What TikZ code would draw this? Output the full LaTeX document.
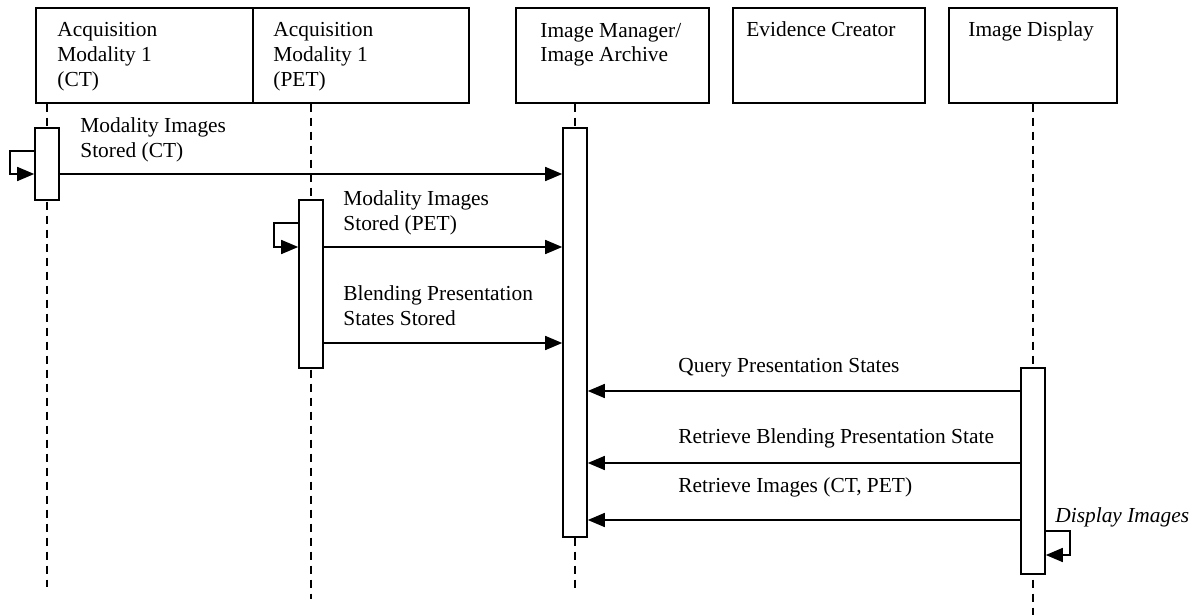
\documentclass[tikz,border=0pt]{standalone}
\usepackage{fontspec}
\setmainfont{Liberation Serif}
\usetikzlibrary{calc,arrows.meta}

\begin{document}
\begin{tikzpicture}[x=0.5pt, y=-0.5pt,
  hbox/.style = {draw, line width=0.8pt, anchor=north west, minimum height=47.5pt, inner sep=0pt},
  act/.style = {draw, line width=0.8pt, fill=white, anchor=north, minimum width=12pt, inner sep=0pt},
  life/.style = {line width=1pt, dash pattern=on 4pt off 3pt},
  msg/.style = {line width=0.8pt, -{Triangle[length=8.5pt, width=7pt]}},
  lbl/.style = {anchor=base west, align=left, inner sep=0pt, font=\fontsize{10.7pt}{12.5pt}\selectfont}]
\useasboundingbox (0,0) rectangle (1198,615);

% objects
\node[hbox, minimum width=108.5pt] (ct) at (35,7) {};
\node[hbox, minimum width=108pt] (pet) at (252,7) {};
\node[hbox, minimum width=96.5pt] (im) at (515,7) {};
\node[hbox, minimum width=96pt] (ec) at (732,7) {};
\node[hbox, minimum width=84pt] (id) at (948,7) {};

% base = last line
\node[lbl] (ctname) at (57,87) {Acquisition\\Modality 1\\(CT)};
\node[lbl] (petname) at (273,87) {Acquisition\\Modality 1\\(PET)};
\node[lbl] (imname) at (540,62) {Image Manager/\\Image Archive};
\node[lbl] (ecname) at (746,37) {Evidence Creator};
\node[lbl] (idname) at (968,37) {Image Display};

% lifelines
\coordinate (ctend) at (47,587);
\coordinate (petend) at (311,599);
\coordinate (imend) at (575,588);
\coordinate (idend) at (1033,615);
\draw[life] (ctend |- ct.south) -- (ctend);
\draw[life] (petend |- pet.south) -- (petend);
\draw[life] (imend |- im.south) -- (imend);
\draw[life] (idend |- id.south) -- (idend);

% activations
\node[act, minimum height=36pt] (ctact) at (47,127) {};
\node[act, minimum height=84pt] (petact) at (311,199) {};
\node[act, minimum height=204.5pt] (imact) at (575,127) {};
\node[act, minimum height=103pt] (idact) at (1033,367) {};

% message rows
\coordinate (s1) at (0,151);
\coordinate (r1) at (0,174);
\coordinate (s2) at (0,223);
\coordinate (r2) at (0,247);
\coordinate (r3) at (0,343);
\coordinate (r4) at (0,391);
\coordinate (r5) at (0,463);
\coordinate (r6) at (0,520);
\coordinate (s7) at (0,531);
\coordinate (r7) at (0,555);

\draw[msg] (ctact.west |- s1) -- ++(-24,0) |- (ctact.west |- r1);
\draw[msg] (ctact.east |- r1) -- (imact.west |- r1);
\node[lbl] (m1) at (80,157) {Modality Images\\Stored (CT)};

\draw[msg] (petact.west |- s2) -- ++(-24,0) |- (petact.west |- r2);
\draw[msg] (petact.east |- r2) -- (imact.west |- r2);
\node[lbl] (m2) at (343,230) {Modality Images\\Stored (PET)};

\draw[msg] (petact.east |- r3) -- (imact.west |- r3);
\node[lbl] (m3) at (343,325) {Blending Presentation\\States Stored};

\draw[msg] (idact.west |- r4) -- (imact.east |- r4);
\node[lbl] (m4) at (678,372) {Query Presentation States};

\draw[msg] (idact.west |- r5) -- (imact.east |- r5);
\node[lbl] (m5) at (678,443) {Retrieve Blending Presentation State};

\draw[msg] (idact.west |- r6) -- (imact.east |- r6);
\node[lbl] (m6) at (678,492) {Retrieve Images (CT, PET)};

\draw[msg] (idact.east |- s7) -- ++(24,0) |- (idact.east |- r7);
\node[lbl] (m7) at (1055,522) {\textit{Display Images}};

\end{tikzpicture}
\end{document}
